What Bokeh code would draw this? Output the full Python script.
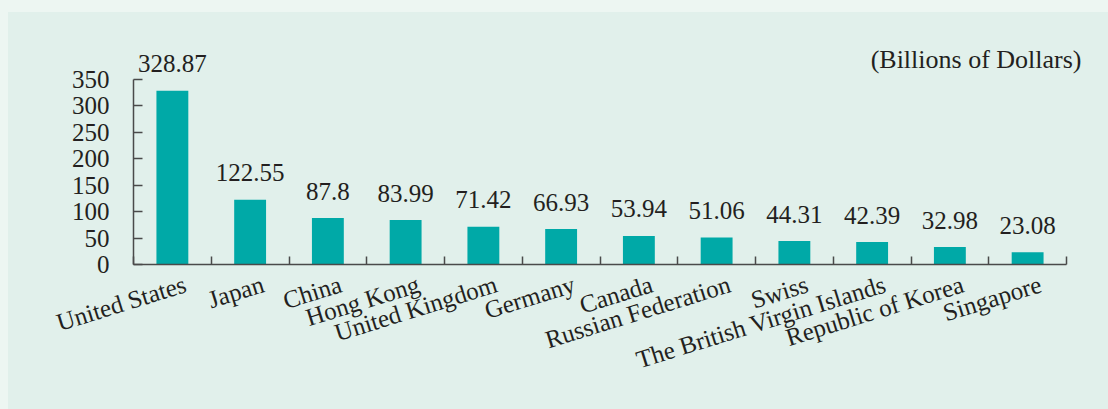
from bokeh.plotting import figure
from bokeh.models import ColumnDataSource, Range1d, FixedTicker
from bokeh.core.properties import value
from bokeh.embed import file_html
from bokeh.resources import INLINE

# ---- data ----
countries = ["United States", "Japan", "China", "Hong Kong", "United Kingdom",
             "Germany", "Canada", "Russian Federation", "Swiss",
             "The British Virgin Islands", "Republic of Korea", "Singapore"]
values = [328.87, 122.55, 87.8, 83.99, 71.42, 66.93, 53.94, 51.06, 44.31,
          42.39, 32.98, 23.08]
y_ticks = [0, 50, 100, 150, 200, 250, 300, 350]
unit_label = "(Billions of Dollars)"

# ---- layout (pixels) ----
W, H = 1108, 409
AX_L, AX_R = 133, 1066      # x pixel of category axis start / end
AX_B, AX_T = 264, 79        # y pixel of value 0 / value 350
N = len(countries)
YMAX = y_ticks[-1]
sx = (AX_R - AX_L) / N
sy = (AX_B - AX_T) / YMAX

FONT = "Liberation Serif"
TXT = "#231f20"
AXC = "#4a4a4a"

pos = [i + 0.5 for i in range(N)]
src = ColumnDataSource(dict(x=pos, top=values, name=countries,
                            vlabel=[str(v) for v in values],
                            zero=[0] * N))

p = figure(width=W, height=H, output_backend="svg", toolbar_location=None,
           x_range=Range1d(-AX_L / sx, N + (W - AX_R) / sx),
           y_range=Range1d(-(H - AX_B) / sy, AX_B / sy),
           min_border=0)
p.background_fill_alpha = 0
p.border_fill_alpha = 0
p.outline_line_color = None
p.grid.visible = False

p.vbar(x="x", top="top", width=0.41, bottom=0, source=src,
       fill_color="#00a9a7", line_color=None)

# y axis
p.yaxis.fixed_location = 0
p.yaxis.bounds = (0, YMAX)
p.yaxis.ticker = FixedTicker(ticks=y_ticks)
p.yaxis.major_tick_in = 9
p.yaxis.major_tick_out = 0
p.yaxis.minor_tick_line_color = None
p.yaxis.major_label_standoff = 24
p.yaxis.major_label_text_font = FONT
p.yaxis.major_label_text_font_size = "25px"
p.yaxis.major_label_text_color = TXT
p.yaxis.axis_line_color = AXC
p.yaxis.axis_line_width = 1.5
p.yaxis.major_tick_line_color = AXC
p.yaxis.major_tick_line_width = 1.5

# x axis (ticks at category boundaries, no tick labels)
p.xaxis.fixed_location = 0
p.xaxis.bounds = (0, N)
p.xaxis.ticker = FixedTicker(ticks=list(range(N + 1)))
p.xaxis.major_tick_in = 8
p.xaxis.major_tick_out = 0
p.xaxis.minor_tick_line_color = None
p.xaxis.major_label_text_color = None
p.xaxis.axis_line_color = AXC
p.xaxis.axis_line_width = 1.5
p.xaxis.major_tick_line_color = AXC
p.xaxis.major_tick_line_width = 1.5

# value labels
p.text(x="x", y="top", text="vlabel", source=src, y_offset=-27,
       text_align="center", text_baseline="alphabetic",
       text_font=value(FONT), text_font_size="25px", text_color=TXT)

# category labels (rotated)
p.text(x="x", y="zero", text="name", source=src, x_offset=13, y_offset=19,
       angle=0.30, text_align="right", text_baseline="alphabetic",
       text_font=value(FONT), text_font_size="25px", text_color=TXT)

# unit label
p.text(x=[N], y=[YMAX], text=[unit_label], x_offset=15, y_offset=-20,
       text_align="right", text_baseline="alphabetic",
       text_font=value(FONT), text_font_size="26px", text_color=TXT)

html = file_html(p, INLINE)
css = ("<style>html{background:"
       "linear-gradient(#edf6f2,#edf6f2) 0 0/100% 12px no-repeat,"
       "linear-gradient(#edf6f2,#edf6f2) 0 0/8px 100% no-repeat,"
       "#e1f0eb;}body{background:transparent;}</style></head>")
html = html.replace("</head>", css, 1)
open("out.html", "w").write(html)
